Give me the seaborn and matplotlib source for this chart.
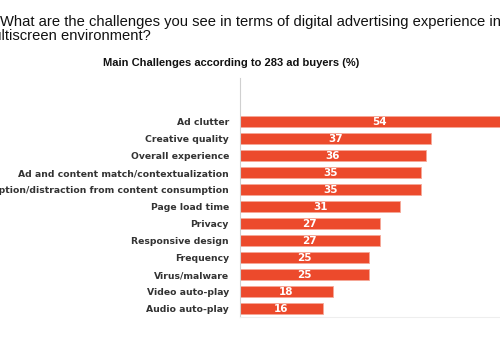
import seaborn as sns
import matplotlib.pyplot as plt
import pandas as pd

challenges = [
    "Ad clutter",
    "Creative quality",
    "Overall experience",
    "Ad and content match/contextualization",
    "Interruption/distraction from content consumption",
    "Page load time",
    "Privacy",
    "Responsive design",
    "Frequency",
    "Virus/malware",
    "Video auto-play",
    "Audio auto-play",
]
share = [54, 37, 36, 35, 35, 31, 27, 27, 25, 25, 18, 16]

df = pd.DataFrame({"challenge": challenges, "share": share})

sns.set_style("white")
plt.rcParams["font.family"] = ["DejaVu Sans"]

fig = plt.figure(figsize=(5, 3.58), dpi=100)
ax = fig.add_axes([0.48, 0.1145, 0.52, 0.6676])

sns.barplot(data=df, x="share", y="challenge", orient="h", color="#ec4a2c",
            saturation=1, width=0.68, edgecolor="#f5a898", linewidth=0.6, ax=ax)

for i, v in enumerate(share):
    ax.text(v / 2, i, str(v), ha="center", va="center", color="white",
            fontsize=7.5, fontweight="bold")

ax.set_xlim(0, 50.3)
ax.set_ylim(11.5, -2.56)
ax.set_xlabel("")
ax.set_ylabel("")
ax.set_xticks([])
ax.tick_params(axis="y", length=0, pad=8)
for lab in ax.get_yticklabels():
    lab.set_fontweight("bold")
    lab.set_fontsize(6.7)
    lab.set_color("#333333")

for s in ["top", "right"]:
    ax.spines[s].set_visible(False)
ax.spines["left"].set_color("#d0d0d0")
ax.spines["left"].set_linewidth(0.8)
ax.spines["bottom"].set_color("#eeeeee")
ax.spines["bottom"].set_linewidth(0.8)

fig.text(0.0, 1 - 26 / 358, "What are the challenges you see in terms of digital advertising experience in a",
         fontsize=10.6, family="Liberation Sans", color="#111111", ha="left", va="baseline")
fig.text(-19 / 500, 1 - 40 / 358, "multiscreen environment?",
         fontsize=10.6, family="Liberation Sans", color="#111111", ha="left", va="baseline")
fig.text(231 / 500, 1 - 63 / 358, "Main Challenges according to 283 ad buyers (%)",
         fontsize=8.0, family="Liberation Sans", fontweight="bold", color="#111111",
         ha="center", va="center")

fig.savefig("out.png", dpi=100)
